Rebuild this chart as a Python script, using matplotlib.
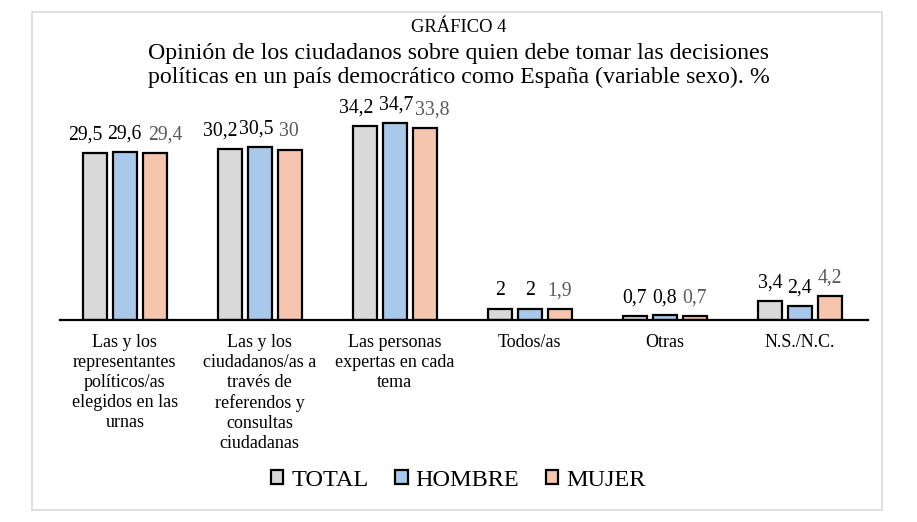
import numpy as np
import matplotlib.pyplot as plt
from matplotlib.patches import Rectangle

plt.rcParams['font.family'] = ['Liberation Serif', 'DejaVu Serif']

categories = ['Las y los\nrepresentantes\npolíticos/as\nelegidos en las\nurnas',
              'Las y los\nciudadanos/as a\ntravés de\nreferendos y\nconsultas\nciudadanas',
              'Las personas\nexpertas en cada\ntema',
              'Todos/as', 'Otras', 'N.S./N.C.']
total = [29.5, 30.2, 34.2, 2.0, 0.7, 3.4]
hombre = [29.6, 30.5, 34.7, 2.0, 0.8, 2.4]
mujer = [29.4, 30.0, 33.8, 1.9, 0.7, 4.2]
series_names = ['TOTAL', 'HOMBRE', 'MUJER']

fill_colors = ['#d9d9d9', '#a9c9ea', '#f5c6ad']
label_colors = ['#000000', '#000000', '#595959']
# horizontal nudges (px) of the value labels so that neighbours don't collide
label_dx = [[-10, 0, 10], [-10, -4, -1], [-9, 1, 7], [0, 0, 0], [0, 0, 0], [0, 0, 0]]


def fmt(v):
    s = ('%.1f' % v).rstrip('0').rstrip('.')
    return s.replace('.', ',')


fig = plt.figure(figsize=(9.17, 5.22), dpi=100)
# outer grey frame
fig.patches.append(Rectangle((32 / 917, 12 / 522), 850 / 917, 498 / 522,
                             transform=fig.transFigure, fill=False,
                             edgecolor='#d9d9d9', linewidth=1.2))

ax = fig.add_axes([60 / 917, 202 / 522, 808 / 917, 227 / 522])
x = np.arange(len(categories))
width = 0.178
offsets = [-0.222, 0.0, 0.222]
data = [total, hombre, mujer]

for i, vals in enumerate(data):
    bars = ax.bar(x + offsets[i], vals, width, color=fill_colors[i],
                  edgecolor='black', linewidth=1.6, label=series_names[i], zorder=2)
    for j, (b, v) in enumerate(zip(bars, vals)):
        ax.annotate(fmt(v), (b.get_x() + b.get_width() / 2, v),
                    xytext=(label_dx[j][i] * 0.72, 6), textcoords='offset points',
                    ha='center', va='bottom', fontsize=14.2, color=label_colors[i])

ax.set_xlim(-0.48, 5.505)
ax.set_ylim(0, 40)
for side in ['top', 'right', 'left']:
    ax.spines[side].set_visible(False)
ax.spines['bottom'].set_linewidth(1.6)
ax.set_yticks([])
ax.set_xticks(x)
ax.set_xticklabels(categories, fontsize=13, linespacing=1.225, va='top')
ax.tick_params(axis='x', length=0, pad=10)

fig.text(0.5, 1 - 28 / 522, 'GRÁFICO 4', ha='center', va='center', fontsize=13.3)
fig.text(0.5, 1 - 65.5 / 522,
         'Opinión de los ciudadanos sobre quien debe tomar las decisiones\n'
         'políticas en un país democrático como España (variable sexo). %',
         ha='center', va='center', fontsize=17.2, linespacing=1.15)

fig.legend(loc='center', bbox_to_anchor=(0.5, 1 - 480 / 522), ncol=3,
           frameon=False, fontsize=17.5, handlelength=0.5, handleheight=0.5,
           handletextpad=0.33, columnspacing=1.1)

fig.savefig('out.png', dpi=100)
